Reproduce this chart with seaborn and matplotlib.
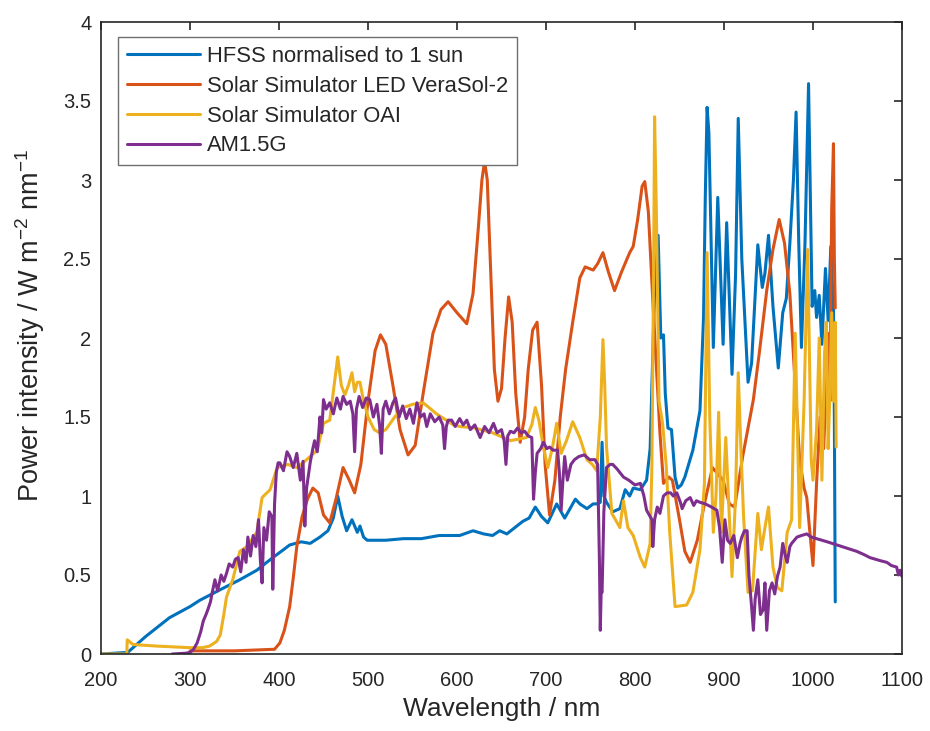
import numpy as np
import pandas as pd
import matplotlib
matplotlib.use("Agg")
import matplotlib.pyplot as plt
import seaborn as sns

# ---- spectra (wavelength in nm, power intensity in W m^-2 nm^-1) ----
wl_hfss = [200, 230, 236, 250, 277, 300, 311, 335, 356, 375,
           393, 405, 412, 425, 435, 446, 455, 461, 466, 471,
           476, 482, 488, 491, 495, 499, 520, 540, 560, 580,
           603, 618, 630, 640, 648, 656, 665, 674, 681, 688,
           695, 702, 712, 721, 733, 738, 746, 753, 757, 761,
           763, 765, 768, 775, 783, 789, 794, 798, 806, 813,
           817, 819, 822, 826, 829, 832, 834, 837, 841, 845,
           848, 852, 856, 865, 873, 877, 879, 881, 883, 888,
           893, 899, 903, 909, 913, 916, 920, 927, 931, 938,
           943, 946, 950, 955, 961, 966, 970, 974, 978, 981,
           984, 987, 991, 995, 999, 1002, 1004, 1007, 1010, 1014,
           1017, 1020, 1023, 1024, 1025]
pw_hfss = [0.0, 0.01, 0.04, 0.11, 0.23, 0.30, 0.34, 0.41, 0.47, 0.53,
           0.61, 0.66, 0.69, 0.71, 0.70, 0.74, 0.78, 0.86, 1.00, 0.87,
           0.78, 0.85, 0.77, 0.81, 0.74, 0.72, 0.72, 0.73, 0.73, 0.75,
           0.75, 0.78, 0.76, 0.75, 0.78, 0.76, 0.80, 0.84, 0.86, 0.93,
           0.87, 0.83, 0.95, 0.86, 0.98, 0.95, 0.92, 0.95, 0.95, 0.96,
           1.34, 1.00, 0.96, 0.90, 0.92, 1.04, 1.00, 1.05, 1.04, 1.10,
           1.30, 1.70, 2.30, 2.65, 2.00, 2.02, 1.65, 1.43, 1.42, 1.12,
           1.05, 1.07, 1.12, 1.29, 1.54, 2.13, 2.90, 3.46, 3.30, 1.94,
           2.89, 1.96, 2.73, 1.77, 2.40, 3.39, 2.50, 1.72, 1.84, 2.59,
           2.32, 2.41, 2.65, 2.20, 1.81, 2.16, 2.25, 2.60, 3.00, 3.43,
           2.60, 1.94, 2.60, 3.61, 2.20, 2.30, 2.13, 2.27, 1.96, 2.44,
           2.11, 2.58, 2.18, 1.50, 0.33]

wl_led = [300, 350, 395, 401, 406, 412, 416, 420, 426, 432,
          438, 444, 450, 457, 464, 472, 479, 485, 492, 500,
          508, 514, 520, 528, 536, 545, 553, 562, 573, 582,
          590, 600, 611, 618, 624, 628, 631, 634, 638, 642,
          646, 650, 654, 658, 662, 666, 671, 676, 680, 685,
          690, 695, 699, 704, 710, 716, 722, 730, 738, 744,
          753, 758, 764, 770, 777, 785, 794, 798, 803, 808,
          811, 815, 820, 828, 832, 838, 842, 850, 856, 862,
          870, 878, 887, 899, 906, 912, 921, 933, 940, 948,
          955, 962, 968, 974, 980, 985, 990, 993, 996, 1000,
          1004, 1008, 1012, 1017, 1019, 1021, 1023, 1024, 1025]
pw_led = [0.02, 0.02, 0.03, 0.07, 0.15, 0.30, 0.48, 0.68, 0.87, 0.98,
          1.05, 1.02, 0.88, 0.83, 0.98, 1.18, 1.10, 1.02, 1.20, 1.60,
          1.92, 2.02, 1.96, 1.70, 1.42, 1.26, 1.32, 1.65, 2.03, 2.18,
          2.23, 2.16, 2.09, 2.28, 2.70, 3.00, 3.12, 3.00, 2.40, 1.80,
          1.60, 1.68, 2.00, 2.26, 2.10, 1.65, 1.34, 1.50, 1.80, 2.05,
          2.10, 1.70, 1.20, 0.88, 1.10, 1.50, 1.80, 2.10, 2.38, 2.45,
          2.43, 2.47, 2.54, 2.42, 2.30, 2.42, 2.54, 2.58, 2.75, 2.96,
          2.99, 2.80, 2.24, 1.40, 1.08, 1.12, 1.10, 0.85, 0.65, 0.58,
          0.72, 0.95, 1.18, 1.10, 0.95, 0.93, 1.25, 1.61, 1.92, 2.30,
          2.56, 2.75, 2.60, 2.28, 1.70, 1.23, 1.05, 0.99, 0.80, 0.56,
          1.08, 1.50, 1.30, 2.03, 1.60, 2.81, 3.23, 2.50, 2.19]

wl_oai = [200, 229, 229.5, 236, 263, 300, 314, 322, 330, 334,
          338, 341, 348, 356, 364, 375, 381, 390, 398, 410,
          420, 427, 435, 443, 450, 457, 462, 466, 470, 474,
          478, 482, 485, 488, 491, 494, 500, 507, 513, 520,
          530, 540, 550, 562, 577, 596, 603, 620, 640, 660,
          678, 684, 688, 692, 697, 702, 707, 712, 717, 723,
          730, 734, 738, 746, 752, 757, 761, 764, 766, 768,
          774, 783, 787, 792, 798, 806, 811, 817, 819, 821,
          822, 824, 827, 831, 835, 839, 845, 858, 865, 873,
          878, 881, 884, 888, 891, 894, 897, 902, 909, 913,
          916, 919, 922, 927, 932, 938, 942, 946, 950, 955,
          960, 965, 971, 976, 980, 985, 990, 994, 998, 1000,
          1004, 1007, 1010, 1013, 1015, 1017, 1019, 1021, 1023, 1025,
          1026]
pw_oai = [0.0, 0.0, 0.09, 0.06, 0.05, 0.04, 0.04, 0.05, 0.08, 0.12,
          0.25, 0.36, 0.47, 0.65, 0.68, 0.77, 0.99, 1.04, 1.18, 1.20,
          1.18, 1.21, 1.25, 1.29, 1.46, 1.48, 1.70, 1.88, 1.70, 1.64,
          1.70, 1.78, 1.66, 1.72, 1.72, 1.63, 1.50, 1.42, 1.40, 1.42,
          1.50, 1.56, 1.58, 1.59, 1.52, 1.45, 1.44, 1.43, 1.40, 1.35,
          1.37, 1.45, 1.56, 1.48, 1.31, 1.18, 1.30, 1.46, 1.27, 1.35,
          1.47, 1.42, 1.37, 1.23, 1.20, 1.16, 1.50, 1.99, 1.70, 1.31,
          0.89, 0.80, 0.97, 0.80, 0.75, 0.61, 0.55, 0.70, 1.20, 2.50,
          3.40, 2.80, 1.60, 1.46, 1.20, 0.77, 0.30, 0.31, 0.39, 0.66,
          1.08, 2.54, 1.50, 0.77, 1.00, 1.53, 0.77, 1.37, 0.49, 1.00,
          1.78, 1.30, 0.87, 0.39, 0.40, 0.89, 0.66, 0.80, 0.93, 0.55,
          0.42, 0.40, 0.77, 0.85, 2.03, 0.80, 1.60, 2.56, 1.23, 1.10,
          1.42, 2.00, 1.10, 1.90, 2.10, 1.30, 1.65, 2.16, 1.60, 2.10,
          1.31]

wl_am = [280, 295, 300, 304, 308, 312, 315, 318, 320, 323,
         325, 328, 331, 335, 338, 341, 344, 348, 351, 354,
         357, 360, 363, 365, 368, 371, 374, 377, 379, 381,
         383, 386, 389, 392, 393, 395, 397, 399, 401, 405,
         409, 412, 416, 420, 424, 427, 429, 431, 435, 438,
         440, 443, 446, 448, 450, 453, 457, 461, 465, 469,
         472, 476, 480, 483, 485, 487, 490, 494, 498, 502,
         506, 510, 513, 515, 517, 520, 524, 528, 531, 535,
         539, 543, 547, 551, 555, 559, 563, 566, 570, 575,
         580, 584, 586, 588, 590, 594, 598, 603, 607, 611,
         615, 620, 626, 631, 636, 641, 645, 650, 653, 655,
         657, 660, 664, 668, 672, 676, 680, 684, 686, 688,
         690, 694, 697, 701, 704, 708, 713, 715, 717, 719,
         721, 724, 728, 732, 737, 743, 749, 755, 758, 760,
         761, 762, 763, 765, 768, 772, 775, 780, 787, 793,
         800, 806, 810, 813, 816, 819, 820, 822, 825, 828,
         832, 836, 840, 843, 847, 851, 853, 857, 862, 866,
         869, 873, 879, 886, 892, 895, 898, 901, 904, 907,
         911, 915, 918, 920, 923, 926, 928, 931, 933, 935,
         938, 941, 944, 946, 948, 951, 954, 957, 960, 963,
         966, 969, 971, 974, 976, 979, 982, 987, 993, 998,
         1004, 1010, 1016, 1027, 1038, 1049, 1057, 1064, 1070, 1076,
         1083, 1088, 1094, 1096, 1098, 1100]
pw_am = [0.00, 0.005, 0.01, 0.03, 0.07, 0.14, 0.21, 0.25, 0.28, 0.33,
         0.39, 0.47, 0.40, 0.50, 0.46, 0.51, 0.57, 0.55, 0.60, 0.61,
         0.52, 0.66, 0.58, 0.74, 0.62, 0.75, 0.68, 0.85, 0.60, 0.45,
         0.80, 0.72, 0.90, 0.87, 0.41, 0.95, 1.15, 1.21, 1.21, 1.16,
         1.28, 1.25, 1.18, 1.27, 1.10, 1.22, 0.81, 1.05, 1.21, 1.30,
         1.35, 1.28, 1.50, 1.40, 1.61, 1.55, 1.59, 1.52, 1.62, 1.55,
         1.63, 1.58, 1.60, 1.52, 1.28, 1.55, 1.63, 1.56, 1.62, 1.61,
         1.50, 1.58, 1.45, 1.27, 1.55, 1.60, 1.52, 1.59, 1.62, 1.50,
         1.57, 1.49, 1.55, 1.46, 1.59, 1.50, 1.52, 1.44, 1.52, 1.47,
         1.50, 1.45, 1.30, 1.44, 1.48, 1.48, 1.44, 1.49, 1.45, 1.48,
         1.42, 1.45, 1.37, 1.44, 1.40, 1.46, 1.40, 1.42, 1.35, 1.20,
         1.38, 1.41, 1.40, 1.43, 1.40, 1.41, 1.38, 1.37, 0.98, 1.15,
         1.27, 1.30, 1.34, 1.30, 1.31, 1.29, 1.29, 1.15, 0.91, 1.10,
         1.25, 1.10, 1.20, 1.23, 1.25, 1.26, 1.23, 1.23, 1.20, 0.60,
         0.15, 0.40, 0.39, 0.90, 1.18, 1.20, 1.20, 1.17, 1.12, 1.10,
         1.07, 1.08, 1.00, 0.91, 0.88, 0.85, 0.68, 0.85, 0.93, 0.89,
         1.00, 1.02, 1.02, 1.00, 1.02, 0.96, 0.92, 0.97, 0.99, 0.94,
         0.97, 0.96, 0.95, 0.93, 0.91, 0.80, 0.58, 0.85, 0.72, 0.70,
         0.75, 0.61, 0.70, 0.74, 0.78, 0.78, 0.50, 0.30, 0.15, 0.35,
         0.47, 0.25, 0.28, 0.45, 0.15, 0.40, 0.45, 0.38, 0.49, 0.55,
         0.70, 0.62, 0.58, 0.68, 0.70, 0.72, 0.74, 0.75, 0.76, 0.74,
         0.73, 0.72, 0.71, 0.69, 0.67, 0.65, 0.63, 0.61, 0.60, 0.59,
         0.58, 0.56, 0.55, 0.50, 0.53, 0.49]

series_names = ["HFSS normalised to 1 sun",
                "Solar Simulator LED VeraSol-2",
                "Solar Simulator OAI",
                "AM1.5G"]
series_colors = ["#0072BD", "#D95319", "#EDB120", "#7E2F8E"]

frames = []
for name, wl, pw in zip(series_names,
                        [wl_hfss, wl_led, wl_oai, wl_am],
                        [pw_hfss, pw_led, pw_oai, pw_am]):
    frames.append(pd.DataFrame({"wl": wl, "pw": pw, "series": name}))
df = pd.concat(frames, ignore_index=True)

sns.set_style("white")
plt.rcParams["font.family"] = ["Liberation Sans", "DejaVu Sans"]
plt.rcParams["mathtext.fontset"] = "custom"
plt.rcParams["mathtext.rm"] = "Liberation Sans"
plt.rcParams["mathtext.it"] = "Liberation Sans"

fig = plt.figure(figsize=(9.30, 7.31), dpi=100)
ax = fig.add_axes([101 / 930, 1 - 654 / 731, 801 / 930, 632 / 731])

sns.lineplot(data=df, x="wl", y="pw", hue="series", hue_order=series_names,
             palette=series_colors, estimator=None, sort=False,
             linewidth=2.2, legend=False, ax=ax)

ax.set_xlim(200, 1100)
ax.set_ylim(0, 4)
ax.set_xticks(np.arange(200, 1101, 100))
ax.set_yticks(np.arange(0, 4.01, 0.5))
ax.set_yticklabels(["0", "0.5", "1", "1.5", "2", "2.5", "3", "3.5", "4"])

ax.set_xlabel("Wavelength / nm", fontsize=19, color="#262626", labelpad=5)
ax.set_ylabel("Power intensity / W m$^{-2}$ nm$^{-1}$", fontsize=19.5,
              color="#262626")
ax.yaxis.set_label_coords(-0.068, 0.52)

for sp in ax.spines.values():
    sp.set_visible(True)
    sp.set_color("#262626")
    sp.set_linewidth(1.2)
ax.tick_params(axis="both", which="both", direction="in", length=6,
               width=1.2, color="#262626", labelsize=14.5,
               labelcolor="#262626", top=True, right=True)
ax.tick_params(axis="x", pad=12)
ax.tick_params(axis="y", pad=7)

leg = ax.legend(ax.lines[:4], series_names, loc="upper left",
                bbox_to_anchor=(0.021, 0.976), fontsize=15.8,
                handlelength=3.35, handletextpad=0.32, borderpad=0.4,
                labelspacing=0.40, fancybox=False, framealpha=1.0,
                edgecolor="#6e6e6e", borderaxespad=0)
leg.get_frame().set_linewidth(1.0)

fig.savefig("out.png", dpi=100)
